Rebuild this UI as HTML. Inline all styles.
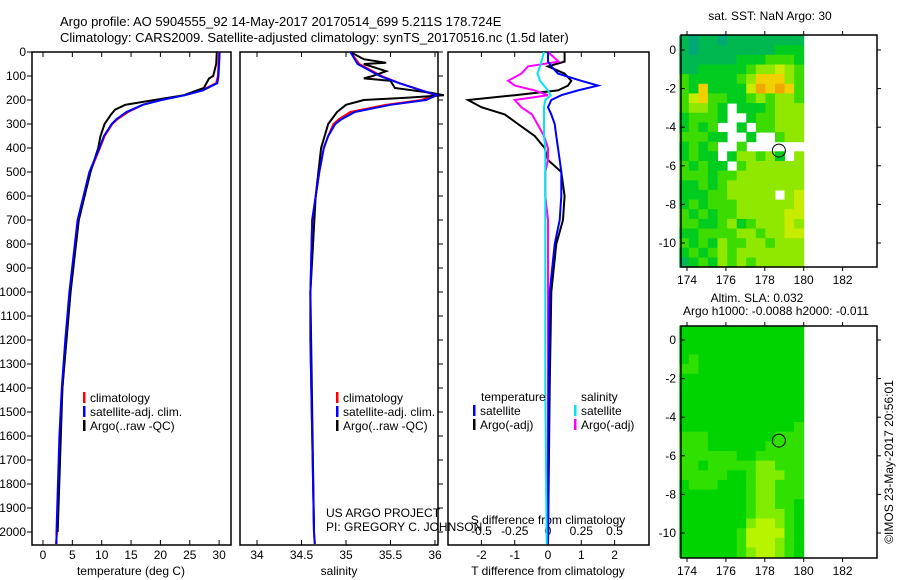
<!DOCTYPE html>
<html><head><meta charset="utf-8"><style>
body{margin:0;background:#fff;width:900px;height:580px;overflow:hidden}
svg{display:block;font-family:"Liberation Sans",sans-serif}
</style></head><body>
<svg id="c" width="900" height="580" xmlns="http://www.w3.org/2000/svg"></svg>
<script>
// ---- data ----
const climDepth=[0,50,100,130,160,180,200,220,250,280,300,350,400,500,700,1000,1200,1400,1600,2000,2050];
const climTemp=[30,29.9,29.8,29.5,27,24,20,17,14.5,12.7,11.8,10.5,9.7,8,6,4.6,3.9,3.3,2.9,2.4,2.2];
const satTemp=[30.1,30,29.9,29.7,27.2,24.2,20.2,17,14.2,12.5,11.7,10.4,9.6,7.9,5.9,4.5,3.8,3.2,2.8,2.3,2.3];
const argoDepth=[0,50,100,110,150,180,200,220,240,260,300,350,400,500,700,1000,1400,2000];
const argoTemp=[29.6,29.5,29,28.3,27.4,24,19,14,12.3,11.6,10.5,9.8,9.4,8.1,6.1,4.7,3.3,2.5];
const climSal=[35.05,35.15,35.4,35.6,35.85,36.0,35.85,35.45,35.05,34.92,34.86,34.8,34.75,34.7,34.62,34.6,34.6,34.61,34.62,34.64,34.65];
const satSal=[35.05,35.13,35.38,35.6,35.85,36.02,35.9,35.5,35.1,34.95,34.88,34.8,34.75,34.7,34.62,34.6,34.6,34.61,34.62,34.64,34.65];
const argoSalDepth=[0,30,45,50,80,100,110,120,150,170,180,190,200,220,250,300,400,600,1000,2000];
const argoSal=[35.05,35.2,35.45,35.2,35.45,35.3,35.2,35.5,35.55,35.95,36.1,35.7,35.2,35.0,34.9,34.8,34.72,34.66,34.6,34.64];
const dDepth=[0,40,60,90,120,140,160,180,200,230,260,300,350,400,450,500,600,700,800,1000,1400,2050];
const dTsat=[0,0,0.1,0.3,1.0,1.5,0.9,0.4,0.1,0,0.1,0.2,0.25,0.3,0.35,0.4,0.4,0.35,0.2,0.05,0.02,0];
const dTargo=[0.5,0.5,0.0,0.5,0.7,0.6,0.3,-1,-2.4,-2.0,-1.3,-0.9,-0.4,-0.1,0,0.4,0.5,0.45,0.25,0.1,0.05,0];
const dSargo=[0,0.08,-0.15,-0.2,-0.3,-0.25,-0.1,0,-0.25,-0.2,-0.12,-0.08,-0.03,0,0,-0.02,-0.02,0,0,0,0,0];
const dSsat=[-0.03,-0.05,-0.06,-0.08,-0.06,-0.03,0,0.02,-0.02,-0.03,-0.03,-0.03,-0.03,-0.02,-0.02,-0.02,-0.02,-0.02,-0.02,-0.02,-0.02,-0.01];
const depthTicks=[0,100,200,300,400,500,600,700,800,900,1000,1100,1200,1300,1400,1500,1600,1700,1800,1900,2000];
const tempTicks=[0,5,10,15,20,25,30];
const salTicks=[34,34.5,35,35.5,36];
const dTTicks=[-2,-1,0,1,2];
const dSTicks=[-0.5,-0.25,0,0.25,0.5];
const lonTicks=[174,176,178,180,182];
const latTicks=[0,-2,-4,-6,-8,-10];
const sstGrid=["1011011111111","1011111111222","1111112223332","1122222344543","3222223466643","3262222576763","3563322343443","34432w2223444","23332ww233444","2323ww2w33444","33322ww2ww344","2323ww3wwwwww","2322w244342w4","32322w3444444","3332334444444","2232344444444","2223344444w45","2323334444445","3232334444455","3322342344454","2233334434455","3232433443444","2323434444444","1232434344444"];
const slaGrid=["2222222222222","2222222222222","2222222222222","2322222222222","3322222222222","2222222222222","2222222222222","2222222222222","2222222222222","2222222222222","2222222222223","3332222222333","3332222223333","3333332233333","3323333344333","3333322344433","2333222344333","2222222344333","2222222344332","2222222344432","2222222455432","2222223555532","2222223555432","2222223455432"];
const sstColors={"0":"#00a878","1":"#00b850","2":"#00cc20","3":"#3cdc00","4":"#90e800","5":"#c8ec00","6":"#f0d000","7":"#f0a800"};
const slaColors={"1":"#00c830","2":"#00d400","3":"#30e000","4":"#80ec00","5":"#b8f400"};
const floatLon=178.724, floatLat=-5.211;

// ---- axes ----
const yD=d=>52+d*0.24;
const xT=t=>43+t*5.87;
const xS=s=>257+(s-34)*89;
const xDT=v=>548+v*33.3;
const xDS=v=>548+v*133;
const mx=l=>687+(l-174)*19.45;
const myTop=a=>50-a*19.3;
const myBot=a=>340-a*19.3;

const svg=document.getElementById('c');
const NS='http://www.w3.org/2000/svg';
function mk(tag,attrs,name,parent){const e=document.createElementNS(NS,tag);for(const k in attrs)e.setAttribute(k,attrs[k]);


(parent||svg).appendChild(e);return e;}
function txt(x,y,s,name,anchor,size){const t=mk('text',{x:x,y:y,'font-size':size||12,'text-anchor':anchor||'start',fill:'#000'},name);t.textContent=s;return t;}
function line(xs,ds,xf,col,name,w){const p=xs.map((v,i)=>xf(v).toFixed(1)+','+yD(ds[i]).toFixed(1)).join(' ');mk('polyline',{points:p,fill:'none',stroke:col,'stroke-width':w||2},name);}

// titles
txt(60,26,'Argo profile: AO 5904555_92 14-May-2017 20170514_699 5.211S 178.724E','title-line-1','start',13);
txt(60,42,'Climatology: CARS2009. Satellite-adjusted climatology: synTS_20170516.nc (1.5d later)','title-line-2','start',13);

// panels
function panel(x0,x1,name){mk('rect',{x:x0,y:52,width:x1-x0,height:493,fill:'none',stroke:'#000','stroke-width':1.5},name);}
panel(32,231,'temperature-panel');panel(240,438,'salinity-panel');panel(448,649,'difference-panel');
depthTicks.forEach(d=>{mk('line',{x1:27,x2:32,y1:yD(d),y2:yD(d),stroke:'#000'},'depth-tick');txt(26,yD(d)+4,String(d),'depth-tick-label','end');
 mk('line',{x1:438,x2:443,y1:yD(d),y2:yD(d),stroke:'#000'},'depth-tick-right');});
function xticks(vals,f,y,name,lab){vals.forEach(v=>{const x=f(v);mk('line',{x1:x,x2:x,y1:545,y2:540,stroke:'#000'},name+'-tick');mk('line',{x1:x,x2:x,y1:52,y2:57,stroke:'#000'},name+'-tick-top');
 if(lab!==false)txt(x,y,String(v),name+'-tick-label','middle');});}
xticks(tempTicks,xT,559,'temperature');xticks(salTicks,xS,559,'salinity');xticks(dTTicks,xDT,559,'t-diff');
dSTicks.forEach(v=>txt(xDS(v),535,String(v),'s-diff-tick-label','middle'));
txt(131,575,'temperature (deg C)','temperature-axis-title','middle');
txt(339,575,'salinity','salinity-axis-title','middle');
txt(548,575,'T difference from climatology','t-diff-axis-title','middle');
txt(548,524,'S difference from climatology','s-diff-axis-title','middle');

// series
line(climTemp,climDepth,xT,'#ff0000','temp-climatology-line');
line(argoTemp,argoDepth,xT,'#000','temp-argo-line');
line(satTemp,climDepth,xT,'#0000ff','temp-satellite-line');
line(climSal,climDepth,xS,'#ff0000','sal-climatology-line');
line(argoSal,argoSalDepth,xS,'#000','sal-argo-line');
line(satSal,climDepth,xS,'#0000ff','sal-satellite-line');
line(dTargo,dDepth,xDT,'#000','tdiff-argo-line');
line(dSargo,dDepth,xDS,'#ff00ff','sdiff-argo-line');
line(dTsat,dDepth,xDT,'#0000ff','tdiff-satellite-line');
line(dSsat,dDepth,xDS,'#00e5ee','sdiff-satellite-line');

// legends
function leg(x,y,col,s,name){mk('rect',{x:x,y:y-10,width:2.5,height:11,fill:col},name+'-swatch');txt(x+7,y,s,name);}
[[83,'temp'],[336,'sal']].forEach(([x,n])=>{leg(x,402,'#ff0000','climatology',n+'-legend-climatology');leg(x,416,'#0000ff','satellite-adj. clim.',n+'-legend-satellite');leg(x,430,'#000','Argo(..raw -QC)',n+'-legend-argo');});
txt(481,401,'temperature','diff-legend-temperature-header');txt(581,401,'salinity','diff-legend-salinity-header');
leg(473,415,'#0000ff','satellite','diff-legend-t-satellite');leg(473,429,'#000','Argo(-adj)','diff-legend-t-argo');
leg(574,415,'#00e5ee','satellite','diff-legend-s-satellite');leg(574,429,'#ff00ff','Argo(-adj)','diff-legend-s-argo');
txt(326,517,'US ARGO PROJECT','credit-project');txt(326,531,'PI: GREGORY C. JOHNSON','credit-pi');

// maps
function map(grid,colors,my,top,name){
 const g=mk('g',{},name);
 const cw=(mx(180)-mx(173.6))/13, lat0=0.75;
 grid.forEach((row,r)=>{for(let c=0;c<row.length;c++){const ch=row[c];if(ch==='w')continue;
  const x=mx(173.6)+c*cw, y=my(lat0-r*0.5);
  const e=mk('rect',{x:x.toFixed(1),y:y.toFixed(1),width:(cw+0.5).toFixed(1),height:(0.5*19.3+0.5).toFixed(1),fill:colors[ch]},'map-cell',g);}});
 mk('rect',{x:681,y:top,width:196,height:232,fill:'none',stroke:'#000','stroke-width':1.5},name+'-frame');
 latTicks.forEach(a=>{const y=my(a);mk('line',{x1:681,x2:685,y1:y,y2:y,stroke:'#000'},'lat-tick');mk('line',{x1:877,x2:881,y1:y,y2:y,stroke:'#000'},'lat-tick-right');txt(676,y+4,String(a),'lat-tick-label','end');});
 lonTicks.forEach(l=>{const x=mx(l);mk('line',{x1:x,x2:x,y1:top,y2:top-4,stroke:'#000'},'lon-tick');mk('line',{x1:x,x2:x,y1:top+232,y2:top+236,stroke:'#000'},'lon-tick-bottom');txt(x,top+249,String(l),'lon-tick-label','middle');});
 mk('circle',{cx:mx(floatLon),cy:my(floatLat),r:6.5,fill:'none',stroke:'#000','stroke-width':1},name+'-float-marker');
}
map(sstGrid,sstColors,myTop,35,'sst-map');
map(slaGrid,slaColors,myBot,326,'sla-map');
txt(770,20,'sat. SST: NaN  Argo: 30','sst-map-title','middle');
txt(757,302,'Altim. SLA: 0.032','sla-map-title','middle');
txt(776,315,'Argo h1000: -0.0088 h2000: -0.011','sla-map-subtitle','middle');
const ts=txt(0,0,'©IMOS 23-May-2017 20:56:01','timestamp','middle');ts.setAttribute('transform','translate(893,462) rotate(-90)');
</script>
</body></html>
